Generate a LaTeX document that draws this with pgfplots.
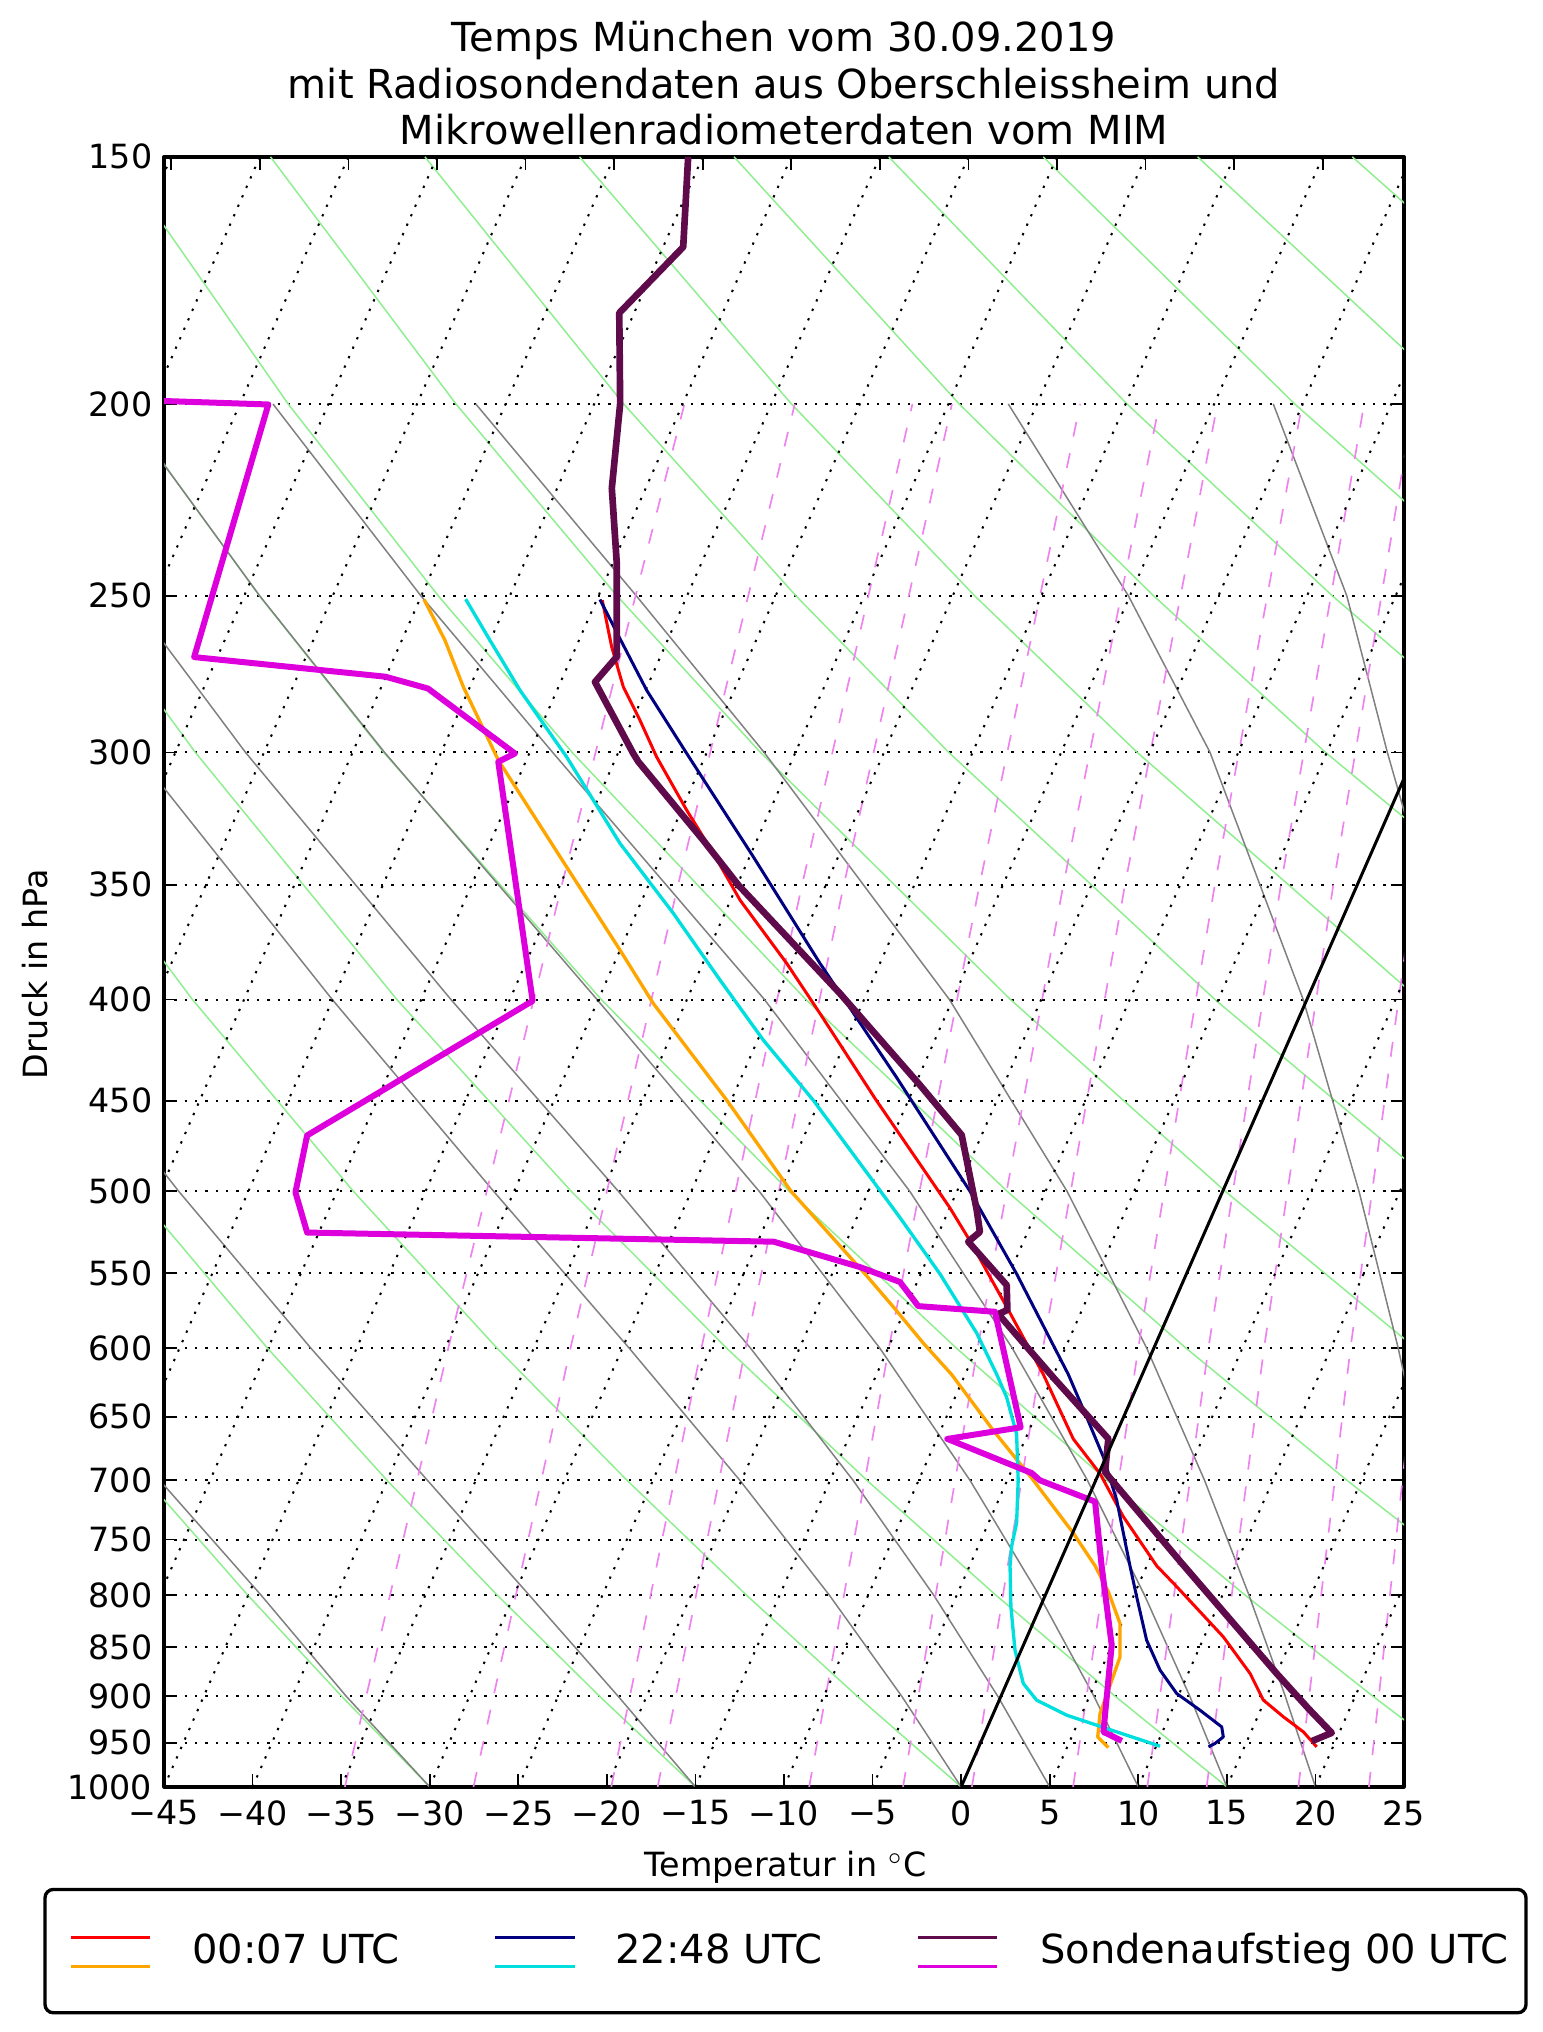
\documentclass[border=0pt]{standalone}
\usepackage{fontspec}
\setmainfont{DejaVu Sans}
\usepackage{pgfplots}
\pgfplotsset{compat=1.18}
\definecolor{sondeT}{RGB}{95,10,75}
\definecolor{sondeTd}{RGB}{221,0,221}
\definecolor{mwrcyan}{RGB}{0,222,222}
\definecolor{mwrorange}{RGB}{255,165,0}
\definecolor{mwrnavy}{RGB}{0,0,128}
\definecolor{mwrred}{RGB}{255,0,0}
\definecolor{dryc}{RGB}{144,238,144}
\definecolor{moistc}{RGB}{128,128,128}
\definecolor{mixc}{RGB}{238,130,238}
\pgfplotsset{
  dry/.style={dryc, line width=0.45pt, no marks},
  moist/.style={moistc, line width=0.45pt, no marks},
  mix/.style={mixc, line width=0.5pt, dash pattern=on 4.5pt off 5.1pt, no marks},
  iso/.style={black, line width=0.6pt, dash pattern=on 0.7pt off 2.4pt, no marks},
}
\newcommand{\iso}[2]{\addplot[iso] coordinates {(#1,1000) (#2,150)};}
\begin{document}
\begin{tikzpicture}
\begin{axis}[
  at={(0,0)}, anchor=south west,
  scale only axis, width=372pt, height=489pt,
  xmin=-45, xmax=25, ymin=150, ymax=1000,
  ymode=log, y dir=reverse,
  xtick={-45,-40,-35,-30,-25,-20,-15,-10,-5,0,5,10,15,20,25},
  xticklabels={−45,−40,−35,−30,−25,−20,−15,−10,−5,0,5,10,15,20,25},
  xtick pos=left,
  ytick={150,200,250,300,350,400,450,500,550,600,650,700,750,800,850,900,950,1000},
  yticklabels={150,200,250,300,350,400,450,500,550,600,650,700,750,800,850,900,950,1000},
  yminorticks=false, xminorticks=false,
  ymajorgrids=true,
  major grid style={black, line width=0.6pt, dash pattern=on 0.7pt off 2.4pt},
  tick align=inside, major tick length=3.9pt,
  major tick style={black, line width=0.5pt},
  axis line style={black, line width=1pt},
  tick label style={font=\fontsize{10}{12}\selectfont},
  xticklabel style={yshift=-0.6pt},
  clip=true,
  line join=round,
]
% ---- dry adiabats
\addplot[dry] coordinates {(-30,1000) (-34.97,900) (-40.27,800) (-45.96,700)};
\addplot[dry] coordinates {(-15,1000) (-20.41,900) (-26.19,800) (-32.41,700) (-39.17,600) (-46.62,500)};
\addplot[dry] coordinates {(0,1000) (-5.86,900) (-12.12,800) (-18.86,700) (-26.21,600) (-34.31,500) (-43.39,400) (-53.86,300)};
\addplot[dry] coordinates {(15,1000) (8.70,900) (1.96,800) (-5.32,700) (-13.25,600) (-22.01,500) (-31.85,400) (-43.23,300) (-49.71,250)};
\addplot[dry] coordinates {(30,1000) (23.25,900) (16.03,800) (8.23,700) (-0.28,600) (-9.70,500) (-20.31,400) (-32.60,300) (-39.62,250) (-47.46,200)};
\addplot[dry] coordinates {(45,1000) (37.81,900) (30.10,800) (21.78,700) (12.68,600) (2.60,500) (-8.76,400) (-21.96,300) (-29.52,250) (-37.99,200) (-47.71,150)};
\addplot[dry] coordinates {(52.36,900) (44.17,800) (35.32,700) (25.64,600) (14.91,500) (2.79,400) (-11.33,300) (-19.43,250) (-28.52,200) (-38.99,150)};
\addplot[dry] coordinates {(48.87,700) (38.60,600) (27.21,500) (14.33,400) (-0.70,300) (-9.33,250) (-19.05,200) (-30.27,150)};
\addplot[dry] coordinates {(39.52,500) (25.88,400) (9.94,300) (0.76,250) (-9.58,200) (-21.54,150)};
\addplot[dry] coordinates {(37.42,400) (20.57,300) (10.86,250) (-0.11,200) (-12.82,150)};
\addplot[dry] coordinates {(31.21,300) (20.95,250) (9.36,200) (-4.09,150)};
\addplot[dry] coordinates {(41.84,300) (31.05,250) (18.83,200) (4.63,150)};
\addplot[dry] coordinates {(41.14,250) (28.31,200) (13.35,150)};
\addplot[dry] coordinates {(37.78,200) (22.08,150)};
% ---- moist adiabats
\addplot[moist] coordinates {(-30,1000) (-34.71,900) (-39.52,800) (-45.24,700)};
\addplot[moist] coordinates {(-15,1000) (-19.36,900) (-24.38,800) (-30.13,700) (-36.72,600) (-44.17,500) (-52.64,400)};
\addplot[moist] coordinates {(0,1000) (-3.35,900) (-7.44,800) (-12.49,700) (-18.75,600) (-26.39,500) (-35.50,400) (-46.60,300)};
\addplot[moist] coordinates {(5,1000) (2.07,900) (-1.55,800) (-6.10,700) (-11.90,600) (-19.35,500) (-28.80,400) (-40.40,300) (-47.00,250)};
\addplot[moist] coordinates {(10,1000) (7.50,900) (4.40,800) (0.50,700) (-4.60,600) (-11.40,500) (-20.55,400) (-32.55,300) (-39.60,250) (-47.50,200)};
\addplot[moist] coordinates {(15,1000) (12.91,900) (10.35,800) (7.13,700) (2.88,600) (-2.90,500) (-11.10,400) (-23.06,300) (-30.50,250) (-38.85,200)};
\addplot[moist] coordinates {(20,1000) (18.30,900) (16.25,800) (13.74,700) (10.47,600) (5.98,500) (-0.66,400) (-11.12,300) (-18.34,250) (-27.40,200)};
\addplot[moist] coordinates {(30,1000) (28.88,900) (27.71,800) (26.31,700) (24.67,600) (22.46,500) (19.31,400) (14.05,300) (9.44,250) (2.66,200)};
\addplot[moist] coordinates {(26.20,350) (24.06,300) (21.77,250) (17.62,200)};
% ---- mixing ratio lines
\addplot[mix] coordinates {(-34.79,1000) (-28.95,600) (-22.54,350) (-15.62,200)};
\addplot[mix] coordinates {(-27.53,1000) (-22.05,600) (-15.98,350) (-9.39,200)};
\addplot[mix] coordinates {(-19.75,1000) (-14.66,600) (-8.98,350) (-2.75,200)};
\addplot[mix] coordinates {(-17.13,1000) (-12.17,600) (-6.62,350) (-0.52,200)};
\addplot[mix] coordinates {(-8.58,1000) (-4.08,600) (1.04,350) (6.72,200)};
\addplot[mix] coordinates {(-3.28,1000) (0.93,600) (5.77,350) (11.19,200)};
\addplot[mix] coordinates {(0.61,1000) (4.62,600) (9.25,350) (14.47,200)};
\addplot[mix] coordinates {(6.32,1000) (10.00,600) (14.32,350) (19.25,200)};
\addplot[mix] coordinates {(10.51,1000) (13.96,600) (18.05,350) (22.75,200)};
\addplot[mix] coordinates {(13.86,1000) (17.10,600) (21.01,350) (25.53,200)};
\addplot[mix] coordinates {(19.04,1000) (21.98,600) (25.59,350)};
\addplot[mix] coordinates {(23.02,1000) (25.73,600)};
% ---- skewed isotherm grid
\iso{-85}{-44.59}\iso{-80}{-39.59}\iso{-75}{-34.59}\iso{-70}{-29.59}
\iso{-65}{-24.59}\iso{-60}{-19.59}\iso{-55}{-14.59}\iso{-50}{-9.59}
\iso{-45}{-4.59}\iso{-40}{0.41}\iso{-35}{5.41}\iso{-30}{10.41}
\iso{-25}{15.41}\iso{-20}{20.41}\iso{-15}{25.41}\iso{-10}{30.41}
\iso{-5}{35.41}\iso{5}{45.41}\iso{10}{50.41}\iso{15}{55.41}
\iso{20}{60.41}\iso{25}{65.41}
% ---- 00:07 UTC MWR temperature
\addplot[mwrred, line width=0.9pt, no marks] coordinates {
(-20.26,251.3) (-19.73,265.3) (-19.07,278.0) (-18.13,289.0) (-17.19,301.6)
(-15.49,320.9) (-13.99,337.4) (-12.48,356.3) (-9.85,383.5) (-7.97,406.5)
(-4.86,448.8) (-0.63,509.8) (0.50,529.7) (2.57,572.0) (4.64,618.8)
(6.33,667.0) (7.84,694.6) (9.15,730.1) (11.04,773.3) (12.17,792.3)
(14.80,839.8) (16.31,876.4) (17.06,904.0) (18.19,921.7) (19.32,938.0) (20.07,954.5)};
% ---- 00:07 UTC MWR dewpoint
\addplot[mwrorange, line width=1pt, no marks] coordinates {
(-30.32,251.1) (-29.14,263.3) (-28.10,278.0) (-26.13,302.7) (-22.27,342.8)
(-19.26,377.6) (-17.38,401.8) (-13.23,449.7) (-9.60,500) (-5.43,550.4)
(-3.83,572.0) (-2.14,596.6) (-0.54,618.8) (1.82,660.6) (4.08,700)
(6.33,744.3) (7.56,773.3) (8.31,796.9) (8.97,826.9) (8.97,859.6)
(8.31,893.6) (7.84,918.2) (7.71,943.5) (8.31,955.3)};
% ---- 22:48 UTC MWR temperature
\addplot[mwrnavy, line width=0.9pt, no marks] coordinates {
(-20.39,251.1) (-19.26,262.8) (-17.75,279.1) (-15.49,300.4) (-11.73,338.8)
(-7.97,383.5) (-3.64,438.0) (0.50,500) (3.13,550.4) (6.05,618.8)
(7.09,650.5) (8.03,681.3) (8.78,716.2) (9.53,773.3) (9.91,801.6)
(10.47,843.1) (11.23,873.0) (12.17,897.1) (13.48,914.6) (14.71,932.6)
(14.80,943.5) (14.33,950.8) (13.96,954.5)};
% ---- 22:48 UTC MWR dewpoint
\addplot[mwrcyan, line width=1pt, no marks] coordinates {
(-27.97,251.0) (-26.60,263.3) (-24.90,279.1) (-22.27,301.6) (-19.26,333.5)
(-16.25,361.8) (-13.61,391.1) (-11.17,419.3) (-8.35,449.7) (-5.71,484.0)
(-3.45,515.6) (-1.20,550.4) (0.88,589.8) (2.01,618.8) (2.57,635.6)
(3.13,663.2) (3.22,700) (3.13,735.7) (2.85,755.8) (2.76,773.3)
(2.81,811.0) (3.04,852.9) (3.51,886.7) (4.26,904.0) (5.96,920.0)
(8.78,938.0) (11.23,953.8)};
% ---- radiosonde temperature
\addplot[sondeT, line width=2pt, no marks] coordinates {
(-15.41,150) (-15.69,166.6) (-19.30,179.9) (-19.25,200) (-19.72,220.6)
(-19.44,240.7) (-19.44,268.4) (-20.67,276.4) (-18.51,300.4) (-18.22,303.3)
(-14.56,332.3) (-12.58,350.1) (-6.84,397.2) (-2.32,441.9) (0.03,468.3)
(0.88,511.1) (1.06,524.2) (0.40,530.2) (2.57,557.7) (2.61,574.1)
(2.10,576.8) (5.25,621.7) (8.31,666.9) (8.12,693.3) (12.40,770.0)
(17.81,876.4) (19.60,912.8) (20.92,939.1) (19.79,948.2)};
% ---- radiosonde dewpoint
\addplot[sondeTd, line width=1.8pt, no marks] coordinates {
(-60,197.3) (-39.11,200.1) (-43.30,268.5) (-32.50,274.7) (-30.10,278.5)
(-25.19,300.4) (-26.13,303.3) (-24.19,400.6) (-36.92,468.5) (-37.58,500.6)
(-36.92,524.6) (-10.58,530.2) (-5.71,546.1) (-3.45,555.7) (-2.42,571.5)
(1.91,575.3) (3.36,658.1) (-0.78,667.0) (3.98,694.1) (4.45,700)
(7.56,717.6) (7.93,773.3) (8.50,847.9) (8.03,938.0) (9.07,947.9)};
% ---- 0 degC isotherm
\addplot[black, line width=0.9pt, no marks] coordinates {(0,1000) (40.41,150)};
\end{axis}
% skewed top ticks
\foreach \k in {0,...,13} \draw[black, line width=0.5pt] ({2.18pt+\k*26.571pt},489pt) -- ++(0pt,-3.9pt);
% title
\node[anchor=base, font=\fontsize{12}{14}\selectfont, inner sep=0pt] at (186pt,520.5pt) {Temps München vom 30.09.2019};
\node[anchor=base, font=\fontsize{12}{14}\selectfont, inner sep=0pt] at (186pt,506.6pt) {mit Radiosondendaten aus Oberschleissheim und};
\node[anchor=base, font=\fontsize{12}{14}\selectfont, inner sep=0pt] at (186pt,492.8pt) {Mikrowellenradiometerdaten vom MIM};
% axis labels
\node[anchor=base, font=\fontsize{10}{12}\selectfont, inner sep=0pt] at (186.5pt,-27pt) {Temperatur in ${}^\circ$C};
\node[anchor=base, rotate=90, font=\fontsize{10}{12}\selectfont, inner sep=0pt] at (-34.8pt,243.7pt) {Druck in hPa};
% legend
\draw[black, line width=1pt, rounded corners=2.5pt] (-35.7pt,-30.8pt) rectangle (408.6pt,-67.8pt);
\draw[mwrred, line width=1pt] (-27.8pt,-45.15pt) -- (-4.1pt,-45.15pt);
\draw[mwrorange, line width=1pt] (-27.8pt,-53.97pt) -- (-4.1pt,-53.97pt);
\draw[mwrnavy, line width=1pt] (99.4pt,-45.15pt) -- (123.4pt,-45.15pt);
\draw[mwrcyan, line width=1pt] (99.4pt,-53.97pt) -- (123.4pt,-53.97pt);
\draw[sondeT, line width=1pt] (226.3pt,-45.15pt) -- (250.0pt,-45.15pt);
\draw[sondeTd, line width=1pt] (226.3pt,-53.97pt) -- (250.0pt,-53.97pt);
\node[anchor=base west, font=\fontsize{12}{14}\selectfont, inner sep=0pt] at (8.3pt,-52.95pt) {00:07 UTC};
\node[anchor=base west, font=\fontsize{12}{14}\selectfont, inner sep=0pt] at (135.2pt,-52.95pt) {22:48 UTC};
\node[anchor=base west, font=\fontsize{12}{14}\selectfont, inner sep=0pt] at (262.7pt,-52.95pt) {Sondenaufstieg 00 UTC};
\pgfresetboundingbox
\path[use as bounding box] (-49.2pt,-73.56pt) rectangle (413.4pt,536.04pt);
\end{tikzpicture}
\end{document}
